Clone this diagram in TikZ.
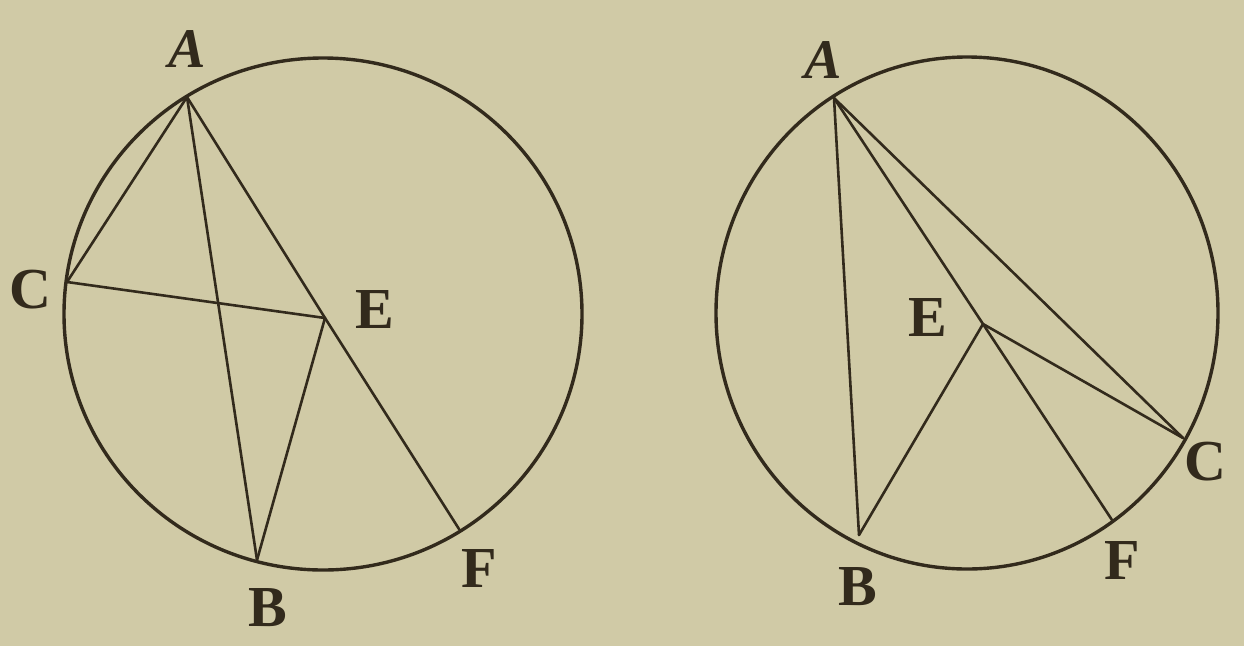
\documentclass[tikz,border=0pt]{standalone}
\usepackage{fontspec}
\setmainfont{Liberation Serif}
\definecolor{paper}{RGB}{208,202,166}
\definecolor{ink}{RGB}{50,42,28}
\tikzset{
  rim/.style={draw=ink, line width=3.4pt},
  chord/.style={draw=ink, line width=2.6pt, line cap=round, line join=round},
  lbl/.style={text=ink, font=\fontsize{58}{58}\selectfont\bfseries, inner sep=0pt},
  lbli/.style={lbl, font=\fontsize{56}{56}\selectfont\bfseries\itshape}
}
\begin{document}
\begin{tikzpicture}[x=1pt,y=-1pt]
\fill[paper] (0,0) rectangle (1244,646);
\useasboundingbox (0,0) rectangle (1244,646);
% left figure
\draw[rim] (323,314) ellipse [x radius=259, y radius=256];
\coordinate (LA) at (187,97);
\coordinate (LC) at (67,282);
\coordinate (LE) at (325,318);
\coordinate (LB) at (257,560);
\coordinate (LF) at (459,529);
\draw[chord] (LC) -- (LA) -- (LB);
\draw[chord] (LA) -- (LE) -- (LF);
\draw[chord] (LC) -- (LE) -- (LB);
\node[lbli] (lA) at (187,49) {A};
\node[lbl] (lC) at (30,290) {C};
\node[lbl] (lE) at (375,310) {E};
\node[lbl] (lB) at (268,608) {B};
\node[lbl] (lF) at (479,568) {F};
% right figure
\draw[rim] (967,313) ellipse [x radius=251, y radius=256];
\coordinate (RA) at (834,98);
\coordinate (RE) at (983,324);
\coordinate (RC) at (1183,438);
\coordinate (RB) at (859,535);
\coordinate (RF) at (1112,520);
\draw[chord] (RB) -- (RA) -- (RC);
\draw[chord] (RA) -- (RE) -- (RF);
\draw[chord] (RB) -- (RE) -- (RC);
\node[lbli] (rA) at (823,60) {A};
\node[lbl] (rE) at (928,318) {E};
\node[lbl] (rC) at (1205,462) {C};
\node[lbl] (rB) at (858,587) {B};
\node[lbl] (rF) at (1122,560) {F};
\end{tikzpicture}
\end{document}
